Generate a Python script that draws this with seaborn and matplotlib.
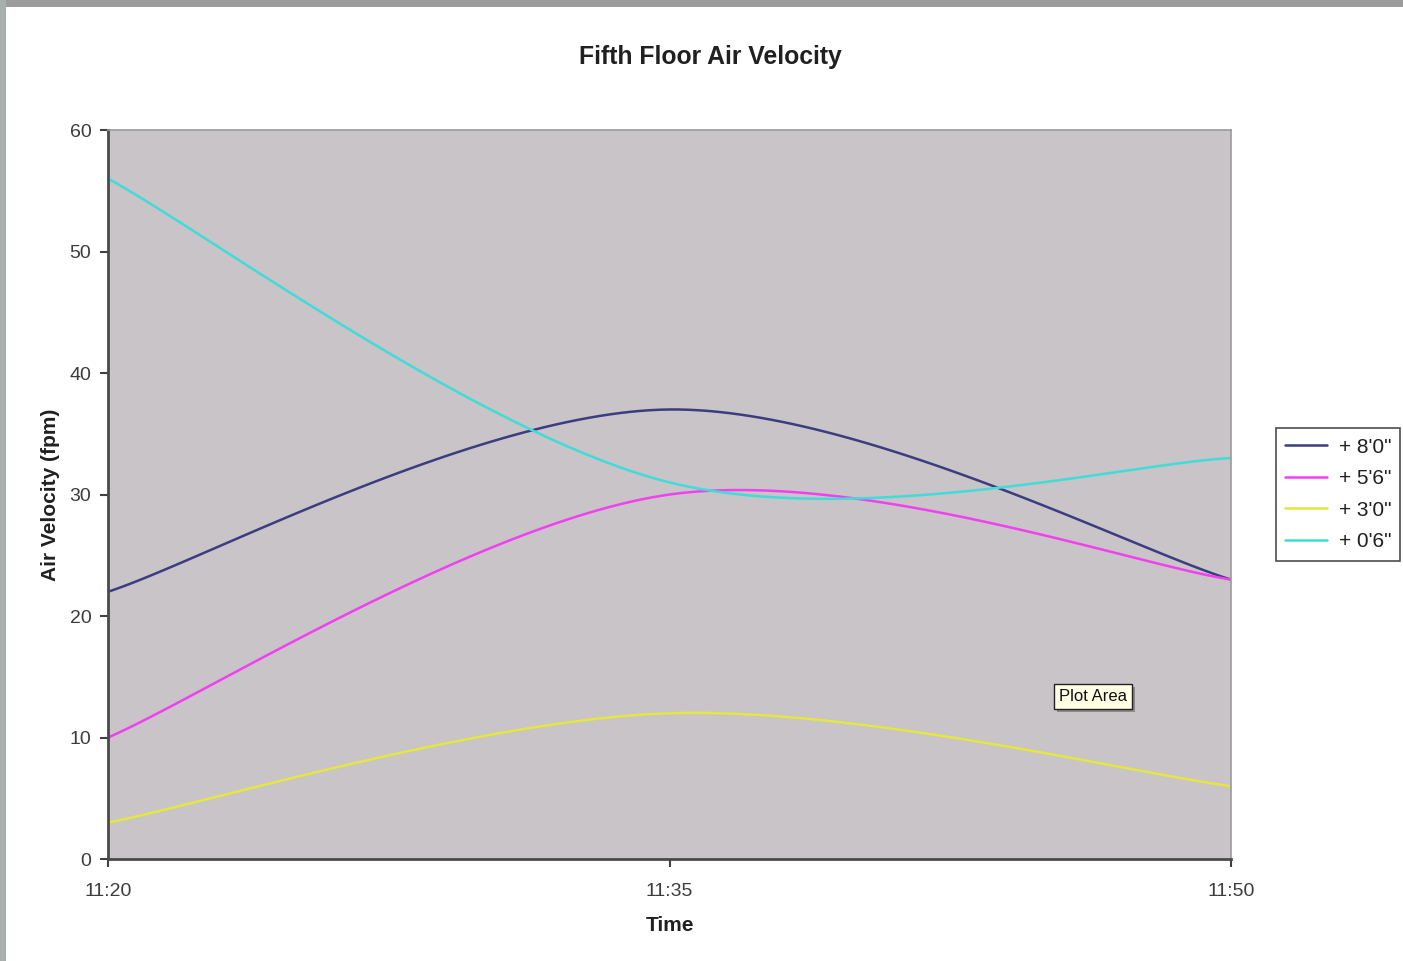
import numpy as np
import pandas as pd
import matplotlib
matplotlib.use("Agg")
import matplotlib.pyplot as plt
from matplotlib.patches import Rectangle
import seaborn as sns

# Readings (fpm) at each measurement time, by sensor height
times = ["11:20", "11:35", "11:50"]
minutes = [0, 15, 30]
heights = ["+ 8'0\"", "+ 5'6\"", "+ 3'0\"", "+ 0'6\""]
h_8_0 = [22, 37, 23]
h_5_6 = [10, 30, 23]
h_3_0 = [3, 12, 6]
h_0_6 = [56, 31, 33]
series = [h_8_0, h_5_6, h_3_0, h_0_6]
colors = ["#3c3c80", "#f040f0", "#e6e640", "#40dcd8"]


def smooth(xs, ys, n=60):
    """Bezier smoothing through the points (spreadsheet-style smoothed line)."""
    P = np.column_stack([xs, ys]).astype(float)
    m = len(P)
    out = []
    for i in range(m - 1):
        p0 = P[max(i - 1, 0)]
        p1 = P[i]
        p2 = P[i + 1]
        p3 = P[min(i + 2, m - 1)]
        c1 = p1 + (p2 - p0) / 6.0
        c2 = p2 - (p3 - p1) / 6.0
        t = np.linspace(0, 1, n)[:, None]
        seg = ((1 - t) ** 3) * p1 + 3 * ((1 - t) ** 2) * t * c1 \
            + 3 * (1 - t) * t ** 2 * c2 + t ** 3 * p2
        out.append(seg if i == 0 else seg[1:])
    return np.vstack(out)


rows = []
for name, vals in zip(heights, series):
    curve = smooth(minutes, vals)
    for order, (x, y) in enumerate(curve):
        rows.append({"height": name, "order": order, "minute": x, "fpm": y})
df = pd.DataFrame(rows)

sns.set_style("white")
plt.rcParams["font.family"] = ["Liberation Sans", "DejaVu Sans"]

fig = plt.figure(figsize=(14.03, 9.61), dpi=100)
fig.patch.set_facecolor("white")
ax = fig.add_axes([0.077, 0.1061, 0.8004, 0.7586])
ax.set_facecolor("#c8c4c8")

sns.lineplot(data=df, x="minute", y="fpm", hue="height", hue_order=heights,
             palette=colors, sort=False, estimator=None, units="height",
             linewidth=1.8, ax=ax, legend=False)

ax.set_xlim(0, 30)
ax.set_ylim(0, 60)
ax.set_xticks(minutes)
ax.set_xticklabels(times)
ax.set_yticks(range(0, 61, 10))
ax.tick_params(axis="both", direction="out", length=6, width=1.5,
               color="#404040", labelsize=14, labelcolor="#3c3c3c",
               left=True, bottom=True)
ax.tick_params(axis="x", pad=11)
ax.tick_params(axis="y", pad=6)

for side in ("left", "bottom"):
    ax.spines[side].set_color("#4a4a4a")
    ax.spines[side].set_linewidth(2.0)
for side in ("top", "right"):
    ax.spines[side].set_color("#9a9a9a")
    ax.spines[side].set_linewidth(1.2)

ax.set_xlabel("Time", fontsize=15, fontweight="bold", color="#202020", labelpad=12)
ax.set_ylabel("Air Velocity (fpm)", fontsize=15, fontweight="bold", color="#202020",
              labelpad=7)
fig.text(0.506, 0.941, "Fifth Floor Air Velocity", ha="center", va="center",
         fontsize=17.8, fontweight="bold", color="#202020")

# Chart-area hover tip, with its drop shadow
ax.text(0.8795, 0.2195, "Plot Area", transform=ax.transAxes, ha="center",
        va="center", fontsize=12, color="#8a8a8a", alpha=0.0,
        bbox=dict(boxstyle="square,pad=0.3", facecolor="#8c888c",
                  edgecolor="none"))
ax.text(0.877, 0.2236, "Plot Area", transform=ax.transAxes, ha="center",
        va="center", fontsize=12, color="#101010",
        bbox=dict(boxstyle="square,pad=0.3", facecolor="#ffffe6",
                  edgecolor="#202020", linewidth=1.0))

handles = [plt.Line2D([], [], color=c, linewidth=1.8) for c in colors]
leg = fig.legend(handles, heights, loc="center left",
                 bbox_to_anchor=(0.9095, 0.4855), frameon=True, fancybox=False,
                 fontsize=15, handlelength=2.0, handletextpad=0.55,
                 labelspacing=0.6, borderpad=0.45, borderaxespad=0)
leg.get_frame().set_edgecolor("#202020")
leg.get_frame().set_linewidth(1.2)
for t in leg.get_texts():
    t.set_color("#202020")

# Window frame around the chart
fig.patches.append(Rectangle((0, 0.993), 1, 0.007, transform=fig.transFigure,
                             facecolor="#9c9c9c", edgecolor="none", zorder=0))
fig.patches.append(Rectangle((0, 0), 0.0043, 1, transform=fig.transFigure,
                             facecolor="#a8b0ac", edgecolor="none", zorder=0))

fig.savefig("out.png", dpi=100, facecolor="white")
